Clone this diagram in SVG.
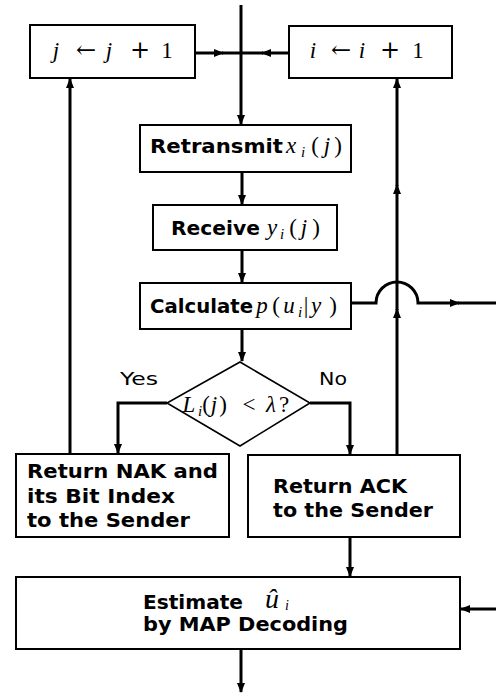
<svg xmlns="http://www.w3.org/2000/svg" width="496" height="693" viewBox="0 0 496 693">
<style>
.box{fill:#fff;stroke:#000;stroke-width:2}
.dia{fill:#fff;stroke:#000;stroke-width:1.6}
.ln{fill:none;stroke:#000;stroke-width:3}
.b{font-family:"DejaVu Sans","Liberation Sans",sans-serif;font-weight:bold;font-size:20px;fill:#000}
.r{font-family:"DejaVu Sans","Liberation Sans",sans-serif;font-size:18px;fill:#000}
.m{font-family:"Liberation Serif","DejaVu Serif",serif;font-size:23px;fill:#000;text-anchor:middle}
.it{font-style:italic}
.sub{font-style:italic;font-size:15px}
.op{font-family:"DejaVu Serif","Liberation Serif",serif;font-size:24px}
</style>
<defs>
<marker id="ah" markerWidth="10" markerHeight="8" refX="9" refY="4" orient="auto" markerUnits="userSpaceOnUse">
<path d="M0,0 L10,4 L0,8 Z" fill="#000"/>
</marker>
</defs>
<g id="connectors">
<path class="ln" d="M241,5 V124" marker-end="url(#ah)"/>
<path class="ln" d="M195,53 H223" marker-end="url(#ah)"/>
<path class="ln" d="M222,53 H241"/>
<path class="ln" d="M289,53 H262" marker-end="url(#ah)"/>
<path class="ln" d="M263,53 H241"/>
<path class="ln" d="M242,172 V204" marker-end="url(#ah)"/>
<path class="ln" d="M242,250 V282" marker-end="url(#ah)"/>
<path class="ln" d="M242,329 V361" marker-end="url(#ah)"/>
<path class="ln" d="M167,403 H118 V453" marker-end="url(#ah)"/>
<path class="ln" d="M310,403 H350 V454" marker-end="url(#ah)"/>
<path class="ln" d="M70,454 V79" marker-end="url(#ah)"/>
<path class="ln" d="M397,455 V309" marker-end="url(#ah)"/>
<path class="ln" d="M397,310 V185" marker-end="url(#ah)"/>
<path class="ln" d="M397,186 V79" marker-end="url(#ah)"/>
<path class="ln" d="M351,303 H376 A21,21 0 0 1 418,303 H459" marker-end="url(#ah)"/>
<path class="ln" d="M458,303 H496"/>
<path class="ln" d="M350,537 V576" marker-end="url(#ah)"/>
<path class="ln" d="M496,609 H461" marker-end="url(#ah)"/>
<path class="ln" d="M241,649 V692" marker-end="url(#ah)"/>
</g>
<g id="jinc">
<rect class="box" x="30" y="25" width="165" height="53"/>
<text class="m" y="58"><tspan class="it" x="56">j</tspan><tspan class="op" x="86">←</tspan><tspan class="it" x="109">j</tspan><tspan class="op" x="140">+</tspan><tspan x="167">1</tspan></text>
</g>
<g id="iinc">
<rect class="box" x="289" y="26" width="163" height="52"/>
<text class="m" y="58"><tspan class="it" x="313">i</tspan><tspan class="op" x="341">←</tspan><tspan class="it" x="362">i</tspan><tspan class="op" x="390">+</tspan><tspan x="418">1</tspan></text>
</g>
<g id="retransmit">
<rect class="box" x="140" y="125" width="211" height="47"/>
<text class="b" x="150" y="153" textLength="133" lengthAdjust="spacingAndGlyphs">Retransmit</text>
<text class="m" y="153"><tspan class="it" x="291">x</tspan><tspan class="sub" x="303" dy="4">i</tspan><tspan x="315" dy="-4">(</tspan><tspan class="it" x="327">j</tspan><tspan x="338">)</tspan></text>
</g>
<g id="receive">
<rect class="box" x="153" y="205" width="184" height="45"/>
<text class="b" x="171" y="235" textLength="89" lengthAdjust="spacingAndGlyphs">Receive</text>
<text class="m" y="235"><tspan class="it" x="272">y</tspan><tspan class="sub" x="282" dy="4">i</tspan><tspan x="293" dy="-4">(</tspan><tspan class="it" x="304">j</tspan><tspan x="316">)</tspan></text>
</g>
<g id="calculate">
<rect class="box" x="140" y="283" width="211" height="46"/>
<text class="b" x="150" y="313" textLength="103" lengthAdjust="spacingAndGlyphs">Calculate</text>
<text class="m" y="313"><tspan class="it" x="262">p</tspan><tspan x="276">(</tspan><tspan class="it" x="289">u</tspan><tspan class="sub" x="300" dy="4">i</tspan><tspan x="306" dy="-4">|</tspan><tspan class="it" x="316">y</tspan><tspan x="333">)</tspan></text>
</g>
<g id="decision">
<path class="dia" d="M240,362 L310,403 L240,446 L167,403 Z"/>
<text class="m" y="412"><tspan class="it" x="189">L</tspan><tspan class="sub" x="200" dy="4">i</tspan><tspan x="206" dy="-4">(</tspan><tspan class="it" x="214">j</tspan><tspan x="223">)</tspan><tspan x="249">&lt;</tspan><tspan class="it" x="271">λ</tspan><tspan x="284">?</tspan></text>
<text class="r" x="120" y="385" textLength="38" lengthAdjust="spacingAndGlyphs">Yes</text>
<text class="r" x="319" y="385" textLength="28" lengthAdjust="spacingAndGlyphs">No</text>
</g>
<g id="nak">
<rect class="box" x="16" y="454" width="213" height="83"/>
<text class="b" x="27" y="478" textLength="191" lengthAdjust="spacingAndGlyphs">Return NAK and</text>
<text class="b" x="27" y="503" textLength="148" lengthAdjust="spacingAndGlyphs">its Bit Index</text>
<text class="b" x="27" y="527" textLength="163" lengthAdjust="spacingAndGlyphs">to the Sender</text>
</g>
<g id="ack">
<rect class="box" x="248" y="455" width="212" height="82"/>
<text class="b" x="273" y="493" textLength="134" lengthAdjust="spacingAndGlyphs">Return ACK</text>
<text class="b" x="273" y="517" textLength="160" lengthAdjust="spacingAndGlyphs">to the Sender</text>
</g>
<g id="estimate">
<rect class="box" x="16" y="577" width="444" height="72"/>
<text class="b" x="143" y="609" textLength="100" lengthAdjust="spacingAndGlyphs">Estimate</text>
<text class="m" y="608" style="font-size:28px"><tspan class="it" x="272">û</tspan><tspan class="sub" x="287" dy="2" style="font-size:14px">i</tspan></text>
<text class="b" x="143" y="631" textLength="205" lengthAdjust="spacingAndGlyphs">by MAP Decoding</text>
</g>
</svg>
